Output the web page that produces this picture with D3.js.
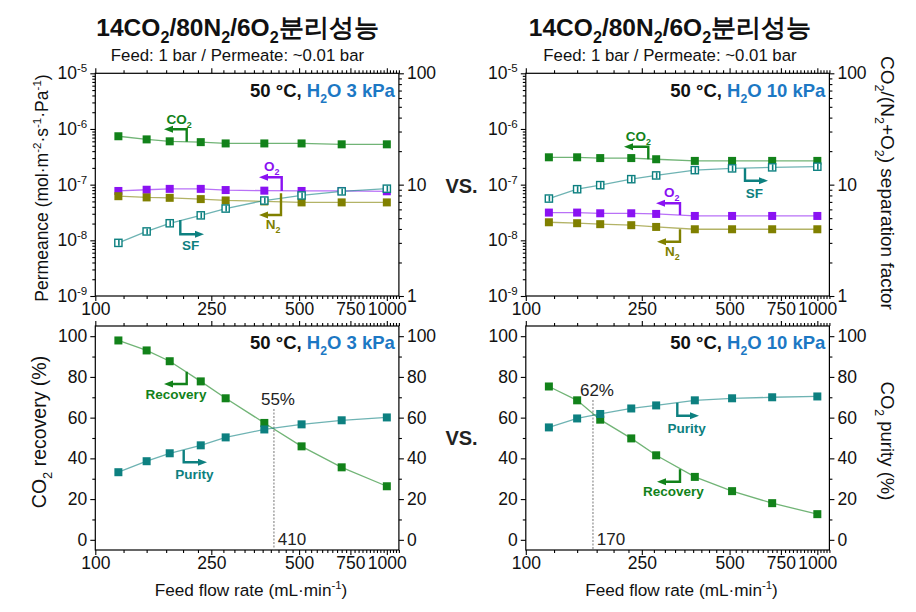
<!DOCTYPE html>
<html><head><meta charset="utf-8">
<script src="https://cdn.jsdelivr.net/npm/d3@7"></script>
<style>
body{margin:0;background:#fff}
svg{display:block}
text{font-family:"Liberation Sans",Arial,sans-serif}
</style>
</head><body>
<svg id="c" width="916" height="612"></svg>
<script>
// ---------------- data ----------------
const flowRates = [120,150,180,230,280,380,510,700,1000];
const xTickLabels = [100,250,500,750,1000];
const permTicks = [1e-9,1e-8,1e-7,1e-6,1e-5];
const permTickExp = [-9,-8,-7,-6,-5];
const sfTicks = [1,10,100];
const pctTicks = [0,20,40,60,80,100];

// 50 °C, H2O 3 kPa
const co2Perm3kPa = [7.4e-7,6.5e-7,6.0e-7,5.8e-7,5.5e-7,5.5e-7,5.5e-7,5.3e-7,5.3e-7];
const o2Perm3kPa  = [7.7e-8,8.1e-8,8.4e-8,8.4e-8,8.0e-8,7.8e-8,7.7e-8,7.7e-8,7.6e-8];
const n2Perm3kPa  = [6.2e-8,5.9e-8,5.8e-8,5.5e-8,5.2e-8,5.0e-8,4.8e-8,4.8e-8,4.8e-8];
const sf3kPa      = [3.0,3.8,4.5,5.3,6.1,7.2,8.0,8.7,9.2];
const recovery3kPa = [97.9,93.0,87.7,77.8,69.5,57.4,45.9,35.6,26.3];
const purity3kPa   = [33.2,38.6,42.5,46.4,50.3,54.2,56.7,58.7,60.1];

// 50 °C, H2O 10 kPa
const co2Perm10kPa = [3.1e-7,3.1e-7,3.0e-7,3.0e-7,2.86e-7,2.67e-7,2.67e-7,2.67e-7,2.67e-7];
const o2Perm10kPa  = [3.15e-8,3.15e-8,3.06e-8,3.06e-8,2.98e-8,2.74e-8,2.74e-8,2.74e-8,2.74e-8];
const n2Perm10kPa  = [2.11e-8,2.03e-8,1.95e-8,1.87e-8,1.74e-8,1.58e-8,1.58e-8,1.58e-8,1.58e-8];
const sf10kPa      = [7.5,9.1,9.9,11.2,12.1,13.5,14.0,14.3,14.5];
const recovery10kPa = [75.3,68.5,59.0,49.8,41.5,30.9,23.9,18.0,12.6];
const purity10kPa   = [55.2,59.6,61.8,64.5,66.0,68.5,69.5,70.0,70.4];

const crossFlow  = [410,170];
const crossValue = [55,62];

// ---------------- style ----------------
const C = {co2:'#12821a', o2:'#8a12f2', n2:'#808000', sf:'#0d8080', blue:'#1c78c4', text:'#111'};
const svg = d3.select('#c');
const defs = svg.append('defs');
Object.entries(C).forEach(([k,col])=>{
  defs.append('marker').attr('id','ar-'+k).attr('markerUnits','userSpaceOnUse')
    .attr('markerWidth',9).attr('markerHeight',8).attr('refX',1).attr('refY',4)
    .attr('orient','auto').append('path').attr('d','M0,0.5 L9,4 L0,7.5 z').attr('fill',col);
});

function rich(g, x, y, parts, o){
  const t = g.append('text').attr('x',x).attr('y',y)
    .attr('font-size',o.size).attr('font-weight',o.weight||'normal')
    .attr('text-anchor',o.anchor||'middle').attr('fill',o.fill||C.text);
  if(o.family) t.attr('font-family',o.family);
  if(o.transform) t.attr('transform',o.transform);
  let shift=0;
  parts.forEach(p=>{
    const [s,mode,col] = typeof p==='string'?[p,null,null]:p;
    const target = mode==='sub'? o.size*0.3 : mode==='sup'? -o.size*0.4 : 0;
    const ts = t.append('tspan').text(s).attr('dy', target-shift);
    if(mode) ts.attr('font-size', o.size*0.66);
    if(col) ts.attr('fill', col);
    shift = target;
  });
  return t;
}

const minorX = d3.range(125,1101,25).filter(v=>!xTickLabels.includes(v));
const minorLog = (lo,hi)=>{const a=[];for(let e=lo;e<hi;e++)for(let m=2;m<=9;m++)a.push(m*Math.pow(10,e));return a;};

function panel(o){
  const g = svg.append('g');
  const x = d3.scaleLog().domain([100,1100]).range([o.x0,o.x1]);
  let yL, yR;
  if(o.type==='perm'){
    yL = d3.scaleLog().domain([1e-9,1e-5]).range([o.y1,o.y0]);
    yR = d3.scaleLog().domain([1,100]).range([o.y1,o.y0]);
  } else {
    yL = d3.scaleLinear().domain([-5,105]).range([o.y1,o.y0]);
    yR = d3.scaleLinear().domain([-5,105]).range([o.y1,o.y0]);
  }
  const ax = (sel)=>{sel.select('.domain').remove(); sel.selectAll('line').attr('stroke','#000').attr('stroke-width',1.1);
    sel.selectAll('text').attr('font-size',17.5).attr('fill',C.text).attr('font-family','"Liberation Sans",Arial,sans-serif');};
  // bottom
  g.append('g').attr('transform',`translate(0,${o.y1})`)
    .call(d3.axisBottom(x).tickValues(xTickLabels).tickFormat(d3.format('d')).tickSize(5).tickPadding(2)).call(ax);
  g.append('g').attr('transform',`translate(0,${o.y1})`)
    .call(d3.axisBottom(x).tickValues(minorX).tickFormat('').tickSize(3)).call(ax);
  // top
  g.append('g').attr('transform',`translate(0,${o.y0})`)
    .call(d3.axisTop(x).tickValues(xTickLabels).tickFormat('').tickSize(5)).call(ax);
  g.append('g').attr('transform',`translate(0,${o.y0})`)
    .call(d3.axisTop(x).tickValues(minorX).tickFormat('').tickSize(3)).call(ax);
  if(o.type==='perm'){
    g.append('g').attr('transform',`translate(${o.x0},0)`)
      .call(d3.axisLeft(yL).tickValues(permTicks).tickFormat('').tickSize(5)).call(ax);
    g.append('g').attr('transform',`translate(${o.x0},0)`)
      .call(d3.axisLeft(yL).tickValues(minorLog(-9,-5)).tickFormat('').tickSize(3)).call(ax);
    permTicks.forEach((v,i)=>{
      rich(g, o.x0-8, yL(v)+6, ['10',[String(permTickExp[i]),'sup']], {size:17.5, anchor:'end'});
    });
    g.append('g').attr('transform',`translate(${o.x1},0)`)
      .call(d3.axisRight(yR).tickValues(sfTicks).tickFormat(d3.format('d')).tickSize(5).tickPadding(3)).call(ax);
    g.append('g').attr('transform',`translate(${o.x1},0)`)
      .call(d3.axisRight(yR).tickValues(minorLog(0,2)).tickFormat('').tickSize(3)).call(ax);
  } else {
    g.append('g').attr('transform',`translate(${o.x0},0)`)
      .call(d3.axisLeft(yL).tickValues(pctTicks).tickFormat(d3.format('d')).tickSize(5).tickPadding(3)).call(ax);
    g.append('g').attr('transform',`translate(${o.x0},0)`)
      .call(d3.axisLeft(yL).tickValues([10,30,50,70,90]).tickFormat('').tickSize(3)).call(ax);
    g.append('g').attr('transform',`translate(${o.x1},0)`)
      .call(d3.axisRight(yR).tickValues(pctTicks).tickFormat(d3.format('d')).tickSize(5).tickPadding(3)).call(ax);
    g.append('g').attr('transform',`translate(${o.x1},0)`)
      .call(d3.axisRight(yR).tickValues([10,30,50,70,90]).tickFormat('').tickSize(3)).call(ax);
  }
  g.append('rect').attr('x',o.x0).attr('y',o.y0).attr('width',o.x1-o.x0).attr('height',o.y1-o.y0)
    .attr('fill','none').attr('stroke','#000').attr('stroke-width',1.2);

  // cross line
  if(o.cross){
    const cx = x(o.cross.flow);
    g.append('line').attr('x1',cx).attr('x2',cx).attr('y1',o.cross.top).attr('y2',o.y1)
      .attr('stroke','#777').attr('stroke-width',1).attr('stroke-dasharray','2,1.5');
    g.append('text').attr('x',cx+4).attr('y',o.cross.top-4).attr('text-anchor','middle')
      .attr('font-size',17).attr('fill','#222').text(o.cross.value+'%');
    g.append('text').attr('x',cx+18).attr('y',o.y1-5).attr('text-anchor','middle')
      .attr('font-size',17).attr('fill','#222').text(o.cross.flow);
  }

  // series
  o.series.forEach(s=>{
    const ys = s.axis==='R'?yR:yL;
    const pts = flowRates.map((f,i)=>[x(f), ys(s.values[i])]);
    g.append('path').attr('d',d3.line()(pts)).attr('fill','none')
      .attr('stroke',s.color).attr('stroke-opacity',0.6).attr('stroke-width',1.3);
    const m = g.selectAll(null).data(pts).enter().append('g').attr('transform',d=>`translate(${d[0]},${d[1]})`);
    if(s.open){
      m.append('rect').attr('x',-3.6).attr('y',-3.6).attr('width',7.2).attr('height',7.2)
        .attr('fill','#fff').attr('stroke',s.color).attr('stroke-width',1.4);
      m.append('line').attr('x1',0.5).attr('x2',0.5).attr('y1',-3).attr('y2',3).attr('stroke',s.color).attr('stroke-width',1.6);
    } else {
      m.append('rect').attr('x',-4).attr('y',-4).attr('width',8).attr('height',8).attr('fill',s.color);
    }
  });

  // annotations
  o.notes.forEach(n=>{
    g.append('path').attr('d',d3.line()(n.path)).attr('fill','none').attr('stroke',C[n.c])
      .attr('stroke-width',2.4).attr('marker-end',`url(#ar-${n.c})`);
    rich(g, n.lx, n.ly, n.label, {size:13.5, weight:'bold', fill:C[n.c]});
  });

  // condition text
  rich(g, o.x1-4, o.condY, ['50 °C, ', ['H','',C.blue], ['2','sub',C.blue], [`O ${o.kpa} kPa`,'',C.blue]], {size:18.5, weight:'bold', anchor:'end'});
}

const L = {x0:95.3, x1:398.9}, R = {x0:525.8, x1:829.4};
const TOP = {y0:73.3, y1:296}, BOT = {y0:326, y1:550};

panel({...L,...TOP, type:'perm', kpa:3, condY:97,
  series:[
    {values:co2Perm3kPa, color:C.co2, axis:'L'},
    {values:o2Perm3kPa, color:C.o2, axis:'L'},
    {values:n2Perm3kPa, color:C.n2, axis:'L'},
    {values:sf3kPa, color:C.sf, axis:'R', open:true}],
  notes:[
    {c:'co2', path:[[186.7,141.7],[186.7,129.3],[172,129.3]], lx:179, ly:124, label:['CO',['2','sub']]},
    {c:'o2', path:[[281.7,191],[281.7,177.3],[267,177.3]], lx:271.7, ly:171, label:['O',['2','sub']]},
    {c:'n2', path:[[281,193.3],[281,215],[267,215]], lx:273, ly:229, label:['N',['2','sub']]},
    {c:'sf', path:[[180.3,220],[180.3,234.3],[196,234.3]], lx:190.7, ly:250, label:['SF']}]
});
panel({...R,...TOP, type:'perm', kpa:10, condY:97,
  series:[
    {values:co2Perm10kPa, color:C.co2, axis:'L'},
    {values:o2Perm10kPa, color:C.o2, axis:'L'},
    {values:n2Perm10kPa, color:C.n2, axis:'L'},
    {values:sf10kPa, color:C.sf, axis:'R', open:true}],
  notes:[
    {c:'co2', path:[[648.3,159.3],[648.3,146.7],[632,146.7]], lx:638.3, ly:141, label:['CO',['2','sub']]},
    {c:'sf', path:[[745,168.3],[745,180.7],[760,180.7]], lx:754.3, ly:198, label:['SF']},
    {c:'o2', path:[[680,215],[680,203.3],[664,203.3]], lx:671.7, ly:197, label:['O',['2','sub']]},
    {c:'n2', path:[[680,229.3],[680,241.7],[665,241.7]], lx:672.3, ly:256, label:['N',['2','sub']]}]
});
panel({...L,...BOT, type:'pct', kpa:3, condY:349,
  cross:{flow:crossFlow[0], value:crossValue[0], top:409},
  series:[
    {values:recovery3kPa, color:C.co2, axis:'L'},
    {values:purity3kPa, color:C.sf, axis:'R'}],
  notes:[
    {c:'co2', path:[[186.7,371.7],[186.7,384],[172,384]], lx:176, ly:399, label:['Recovery']},
    {c:'sf', path:[[183.7,450],[183.7,462.3],[199,462.3]], lx:194.3, ly:479, label:['Purity']}]
});
panel({...R,...BOT, type:'pct', kpa:10, condY:349,
  cross:{flow:crossFlow[1], value:crossValue[1], top:400},
  series:[
    {values:recovery10kPa, color:C.co2, axis:'L'},
    {values:purity10kPa, color:C.sf, axis:'R'}],
  notes:[
    {c:'sf', path:[[677.3,402.7],[677.3,415.7],[691,415.7]], lx:686.7, ly:433, label:['Purity']},
    {c:'co2', path:[[680,469.3],[680,481.7],[665,481.7]], lx:673.3, ly:496, label:['Recovery']}]
});

// titles
const KR = '"Noto Sans CJK KR","Noto Sans",sans-serif';
[237.5, 670].forEach(cx=>{
  rich(svg, cx, 36, ['14CO',['2','sub'],'/80N',['2','sub'],'/6O',['2','sub'],'분리성능'], {size:24.5, weight:'bold', family:KR});
  svg.append('text').attr('x',cx).attr('y',61).attr('text-anchor','middle').attr('font-size',16.8)
    .attr('font-family',KR).attr('fill','#111').text('Feed: 1 bar / Permeate: ~0.01 bar');
});

// VS.
[193,445].forEach(y=>svg.append('text').attr('x',461.5).attr('y',y).attr('text-anchor','middle')
  .attr('font-size',20).attr('font-weight','bold').attr('fill','#222').text('VS.'));

// axis titles
rich(svg, 0,0, ['Permeance (mol·m',['-2','sup'],'·s',['-1','sup'],'·Pa',['-1','sup'],')'], {size:17.5, transform:'translate(48,188) rotate(-90)'});
rich(svg, 0,0, ['CO',['2','sub'],'/(N',['2','sub'],'+O',['2','sub'],') separation factor'], {size:19, transform:'translate(881,183) rotate(90)'});
rich(svg, 0,0, ['CO',['2','sub'],' recovery (%)'], {size:19.5, transform:'translate(46,432) rotate(-90)'});
rich(svg, 0,0, ['CO',['2','sub'],' purity (%)'], {size:18.5, transform:'translate(881,441) rotate(90)'});
[251, 681.5].forEach(cx=>rich(svg, cx, 596, ['Feed flow rate (mL·min',['-1','sup'],')'], {size:17.2}));
</script>
</body></html>
